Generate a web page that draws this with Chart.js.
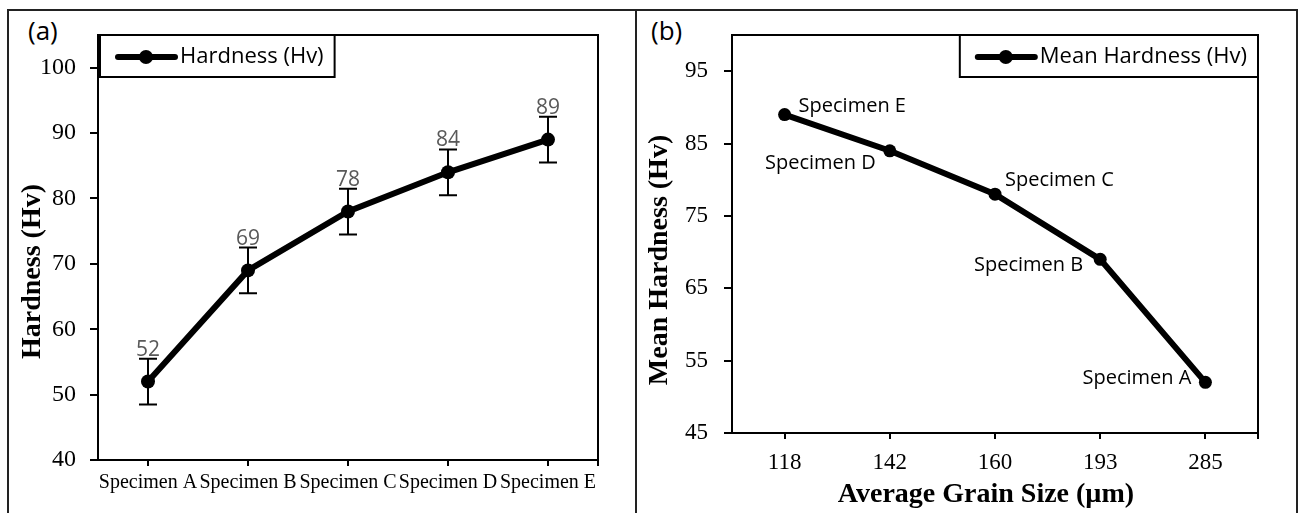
<!DOCTYPE html>
<html>
<head>
<meta charset="utf-8">
<title>Hardness vs specimen and grain size</title>
<script src="https://cdn.jsdelivr.net/npm/chart.js@4.4.1/dist/chart.umd.min.js"></script>
<style>
  body { margin: 0; background: #fff; width: 1299px; height: 513px; overflow: hidden; position: relative; }
  #frame { position: absolute; left: 7px; top: 9px; width: 1291px; height: 520px; border: 2px solid #222; box-sizing: border-box; }
  #divider { position: absolute; left: 635px; top: 9px; width: 2px; height: 510px; background: #222; }
  .tag { position: absolute; top: 16px; font-family: "Open Sans", sans-serif; font-size: 26px; line-height: 28px; color: #000; }
  canvas { position: absolute; }
</style>
</head>
<body>
<div id="frame"></div>
<div id="divider"></div>
<div class="tag" style="left:28px">(a)</div>
<div class="tag" style="left:651px">(b)</div>
<canvas id="chartA" width="626" height="501" style="left:9px; top:12px"></canvas>
<canvas id="chartB" width="658" height="501" style="left:638px; top:12px"></canvas>

<script>
// Panel (a): hardness of each specimen
const specimens = ['Specimen A', 'Specimen B', 'Specimen C', 'Specimen D', 'Specimen E'];
const hardness = [52, 69, 78, 84, 89];
const hardnessErr = [3.5, 3.5, 3.5, 3.5, 3.5];
const hardnessTicks = [40, 50, 60, 70, 80, 90, 100];

// Panel (b): mean hardness against average grain size
const grainSizes = ['118', '142', '160', '193', '285'];
const meanHardness = [89, 84, 78, 69, 52];
const grainSpecimens = ['Specimen E', 'Specimen D', 'Specimen C', 'Specimen B', 'Specimen A'];
const meanHardnessTicks = [45, 55, 65, 75, 85, 95];

const SERIF = '"Liberation Serif", "Times New Roman", serif';
const SANS = '"Open Sans", sans-serif';

Chart.defaults.color = '#000';
Chart.defaults.animation = false;

// box around the plot area, plus the end tick Excel puts on the x axis
const plotFrame = {
    id: 'plotFrame',
    afterDraw(chart) {
        const { ctx, chartArea: a } = chart;
        ctx.save();
        ctx.strokeStyle = '#000';
        ctx.lineWidth = 2;
        ctx.strokeRect(a.left, a.top, a.right - a.left, a.bottom - a.top);
        ctx.beginPath();
        ctx.moveTo(a.right, a.bottom);
        ctx.lineTo(a.right, a.bottom + 6);
        ctx.stroke();
        ctx.restore();
    }
};

// axis titles, placed like Excel does (not exactly centred on the plot)
const axisTitles = {
    id: 'axisTitles',
    afterDraw(chart, args, opts) {
        const { ctx, chartArea: a } = chart;
        ctx.save();
        ctx.fillStyle = '#000';
        ctx.font = 'bold 28px ' + SERIF;
        ctx.textAlign = 'center';
        ctx.textBaseline = 'middle';
        if (opts.y) {
            ctx.save();
            ctx.translate(a.left - opts.y.gap, (a.top + a.bottom) / 2 + opts.y.shift);
            ctx.rotate(-Math.PI / 2);
            ctx.fillText(opts.y.text, 0, 0);
            ctx.restore();
        }
        if (opts.x) {
            ctx.fillText(opts.x.text, (a.left + a.right) / 2 + opts.x.shift, a.bottom + opts.x.gap);
        }
        ctx.restore();
    }
};

// legend drawn as a bordered box inside the plot area
const boxLegend = {
    id: 'boxLegend',
    afterDraw(chart, args, opts) {
        const { ctx, chartArea: a } = chart;
        const label = chart.data.datasets[0].label;
        ctx.save();
        ctx.font = '22px ' + SANS;
        const tw = ctx.measureText(label).width;
        const w = 16 + 59 + 5 + tw + 11;
        const h = 42;
        const x = opts.side === 'left' ? a.left + 2 : a.right - w;
        const y = a.top;
        ctx.fillStyle = '#fff';
        ctx.fillRect(x, y, w, h);
        ctx.strokeStyle = '#000';
        ctx.lineWidth = 2;
        ctx.strokeRect(x, y, w, h);
        const cy = y + h / 2 + 1;
        ctx.lineWidth = 6;
        ctx.lineCap = 'round';
        ctx.beginPath();
        ctx.moveTo(x + 18, cy);
        ctx.lineTo(x + 75, cy);
        ctx.stroke();
        ctx.fillStyle = '#000';
        ctx.beginPath();
        ctx.arc(x + 46, cy, 7, 0, Math.PI * 2);
        ctx.fill();
        ctx.textBaseline = 'middle';
        ctx.fillText(label, x + 80, cy);
        ctx.restore();
    }
};

// error bars and value labels for panel (a)
const errorBars = {
    id: 'errorBars',
    afterDatasetsDraw(chart) {
        const { ctx, scales } = chart;
        const meta = chart.getDatasetMeta(0);
        ctx.save();
        ctx.strokeStyle = '#000';
        ctx.lineWidth = 2;
        meta.data.forEach((pt, i) => {
            const top = scales.y.getPixelForValue(hardness[i] + hardnessErr[i]);
            const bot = scales.y.getPixelForValue(hardness[i] - hardnessErr[i]);
            ctx.beginPath();
            ctx.moveTo(pt.x, top); ctx.lineTo(pt.x, bot);
            ctx.moveTo(pt.x - 9, top); ctx.lineTo(pt.x + 9, top);
            ctx.moveTo(pt.x - 9, bot); ctx.lineTo(pt.x + 9, bot);
            ctx.stroke();
            ctx.fillStyle = '#595959';
            ctx.font = '21px ' + SANS;
            ctx.textAlign = 'center';
            ctx.textBaseline = 'alphabetic';
            ctx.fillText(String(hardness[i]), pt.x, top - 3);
        });
        ctx.restore();
    }
};

// specimen names next to the points of panel (b)
const pointLabelPlacement = [
    { align: 'left', dx: 14, dy: -8 },
    { align: 'right', dx: -14, dy: 13 },
    { align: 'left', dx: 10, dy: -14 },
    { align: 'right', dx: -17, dy: 6 },
    { align: 'right', dx: -14, dy: -4 }
];
const pointLabels = {
    id: 'pointLabels',
    afterDatasetsDraw(chart) {
        const { ctx } = chart;
        const meta = chart.getDatasetMeta(0);
        ctx.save();
        ctx.fillStyle = '#000';
        ctx.font = '20px ' + SANS;
        ctx.textBaseline = 'middle';
        meta.data.forEach((pt, i) => {
            const p = pointLabelPlacement[i];
            ctx.textAlign = p.align;
            ctx.fillText(grainSpecimens[i], pt.x + p.dx, pt.y + p.dy);
        });
        ctx.restore();
    }
};

function axisGrid(len) {
    return { drawOnChartArea: false, drawTicks: true, tickLength: len, color: '#000', lineWidth: 2, offset: false };
}

// Chart (a)
new Chart(document.getElementById('chartA'), {
    type: 'line',
    data: {
        labels: specimens,
        datasets: [{
            label: 'Hardness (Hv)',
            data: hardness,
            borderColor: '#000',
            borderWidth: 6,
            pointRadius: 7,
            pointBorderWidth: 0,
            pointBackgroundColor: '#000',
            tension: 0
        }]
    },
    options: {
        responsive: false,
        layout: { padding: { left: 0, top: 23, right: 37, bottom: 0 } },
        plugins: {
            legend: { display: false },
            tooltip: { enabled: false },
            boxLegend: { side: 'left' },
            axisTitles: { y: { text: 'Hardness (Hv)', gap: 65, shift: 24 } }
        },
        scales: {
            x: {
                offset: true,
                afterFit: s => { s.height = 53; },
                ticks: { font: { family: SERIF, size: 20 }, color: '#000', padding: 5, autoSkip: false, maxRotation: 0, minRotation: 0 },
                grid: axisGrid(6),
                border: { color: '#000', width: 2 }
            },
            y: {
                min: 40,
                max: 105,
                afterBuildTicks: s => { s.ticks = hardnessTicks.map(v => ({ value: v })); },
                afterFit: s => { s.width = 89; s.paddingTop = 0; },
                ticks: { font: { family: SERIF, size: 24 }, color: '#000', padding: 14 },
                grid: axisGrid(8),
                border: { color: '#000', width: 2 }
            }
        }
    },
    plugins: [plotFrame, errorBars, boxLegend, axisTitles]
});

// Chart (b)
new Chart(document.getElementById('chartB'), {
    type: 'line',
    data: {
        labels: grainSizes,
        datasets: [{
            label: 'Mean Hardness (Hv)',
            data: meanHardness,
            borderColor: '#000',
            borderWidth: 6,
            pointRadius: 6.5,
            pointBorderWidth: 0,
            pointBackgroundColor: '#000',
            tension: 0
        }]
    },
    options: {
        responsive: false,
        layout: { padding: { left: 0, top: 23, right: 38, bottom: 0 } },
        plugins: {
            legend: { display: false },
            tooltip: { enabled: false },
            boxLegend: { side: 'right' },
            axisTitles: {
                y: { text: 'Mean Hardness (Hv)', gap: 72, shift: 26 },
                x: { text: 'Average Grain Size (µm)', gap: 62, shift: -9 }
            }
        },
        scales: {
            x: {
                offset: true,
                afterFit: s => { s.height = 80; },
                ticks: { font: { family: SERIF, size: 23 }, color: '#000', padding: 10, autoSkip: false, maxRotation: 0, minRotation: 0 },
                grid: axisGrid(6),
                border: { color: '#000', width: 2 }
            },
            y: {
                min: 45,
                max: 100,
                afterBuildTicks: s => { s.ticks = meanHardnessTicks.map(v => ({ value: v })); },
                afterFit: s => { s.width = 94; s.paddingTop = 0; },
                ticks: { font: { family: SERIF, size: 23 }, color: '#000', padding: 16 },
                grid: axisGrid(8),
                border: { color: '#000', width: 2 }
            }
        }
    },
    plugins: [plotFrame, pointLabels, boxLegend, axisTitles]
});
</script>
</body>
</html>
